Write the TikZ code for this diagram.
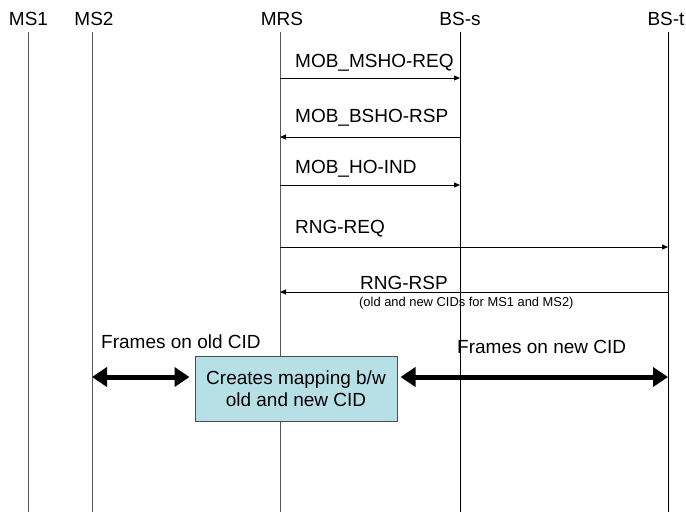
\documentclass[tikz,border=0pt]{standalone}
\usepackage{fontspec}
\setmainfont{Liberation Sans}
\usetikzlibrary{arrows.meta}
\definecolor{boxfill}{RGB}{183,224,230}
\tikzset{
  hdr/.style={anchor=base, inner sep=0pt, font=\fontsize{19}{22}\selectfont},
  lbl/.style={anchor=base west, inner sep=0pt, font=\fontsize{19}{22}\selectfont},
  small/.style={anchor=base west, inner sep=0pt, font=\fontsize{12.9}{15}\selectfont},
  lifeg/.style={draw=black!65, line width=1pt},
  lifek/.style={draw=black, line width=1pt},
  msg/.style={draw=black, line width=0.9pt, -{Triangle[length=6pt,width=5pt]}},
  fat/.style={draw=black, line width=5pt, {Triangle[length=15pt,width=19pt]}-{Triangle[length=15pt,width=19pt]}},
  mapbox/.style={draw=black!70, line width=1pt, fill=boxfill, minimum width=202pt, minimum height=65pt, inner sep=0pt, align=center, font=\fontsize{19}{22}\selectfont}
}
\begin{document}
\begin{tikzpicture}[x=1pt,y=-1pt]
\useasboundingbox (0,0) rectangle (686,512);
% headers
\node[hdr] (hms1) at (28.5,25) {MS1};
\node[hdr] (hms2) at (94,25) {MS2};
\node[hdr] (hmrs) at (282,25) {MRS};
\node[hdr] (hbss) at (460,25) {BS-s};
\node[hdr] (hbst) at (666,25) {BS-t};
% lifelines
\coordinate (t1) at (28,32);  \coordinate (b1) at (28,512);
\coordinate (t2) at (92,32);  \coordinate (b2) at (92,512);
\coordinate (t3) at (280,32); \coordinate (b3) at (280,512);
\coordinate (t4) at (460,32); \coordinate (b4) at (460,512);
\coordinate (t5) at (668,32); \coordinate (b5) at (668,512);
\draw[lifeg] (t1) -- (b1);
\draw[lifeg] (t2) -- (b2);
\draw[lifeg] (t3) -- (b3);
\draw[lifek] (t4) -- (b4);
\draw[lifek] (t5) -- (b5);
% messages
\coordinate (m1a) at (280,78);  \coordinate (m1b) at (460,78);
\coordinate (m2a) at (460,137); \coordinate (m2b) at (280,137);
\coordinate (m3a) at (280,185); \coordinate (m3b) at (460,185);
\coordinate (m4a) at (280,247); \coordinate (m4b) at (668,247);
\coordinate (m5a) at (668,292); \coordinate (m5b) at (280,292);
\draw[msg] (m1a) -- (m1b);
\draw[msg] (m2a) -- (m2b);
\draw[msg] (m3a) -- (m3b);
\draw[msg] (m4a) -- (m4b);
\draw[msg] (m5a) -- (m5b);
\node[lbl] (l1) at (295,67) {MOB\_MSHO-REQ};
\node[lbl] (l2) at (295,122) {MOB\_BSHO-RSP};
\node[lbl] (l3) at (295,173) {MOB\_HO-IND};
\node[lbl] (l4) at (295,233) {RNG-REQ};
\node[lbl] (l5) at (360,289) {RNG-RSP};
\node[small] (l5s) at (359,306) {(old and new CIDs for MS1 and MS2)};
% frames
\node[lbl] (fold) at (101,348) {Frames on old CID};
\node[lbl] (fnew) at (457,353) {Frames on new CID};
\node[mapbox] (map) at (296,388.5) {Creates mapping b/w\\old and new CID};
\coordinate (fa) at (92,377);
\coordinate (fb) at (668,377);
\draw[fat] (fa) -- ([xshift=-5pt]map.west |- fa);
\draw[fat] ([xshift=3pt]map.east |- fb) -- (fb);
\end{tikzpicture}
\end{document}
